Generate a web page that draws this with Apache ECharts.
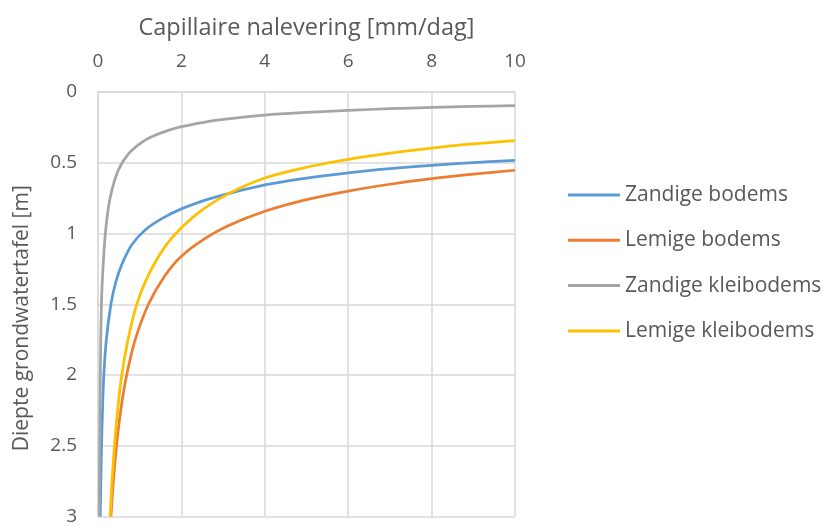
<!DOCTYPE html>
<html>
<head>
<meta charset="utf-8">
<script src="https://cdn.jsdelivr.net/npm/echarts@6/dist/echarts.min.js"></script>
<style>html,body{margin:0;padding:0;background:#fff}#c{width:824px;height:526px}</style>
</head>
<body>
<div id="c"></div>
<script>
const seriesNames = ['Zandige bodems', 'Lemige bodems', 'Zandige kleibodems', 'Lemige kleibodems'];
const xTicks = [0, 2, 4, 6, 8, 10];
const yTicks = [0, 0.5, 1, 1.5, 2, 2.5, 3];

// [capillaire nalevering (mm/dag), diepte grondwatertafel (m)]
const zandigeBodems = [[0.055,3],[0.068,2.75],[0.085,2.5],[0.108,2.25],[0.14,2.0],[0.2,1.75],[0.31,1.5],[0.42,1.35],[0.57,1.22],[0.81,1.08],[1.13,0.975],[1.53,0.895],[2.0,0.826],[2.75,0.748],[4,0.657],[5,0.608],[6,0.571],[7,0.542],[8,0.518],[9,0.499],[10,0.483]];
const lemigeBodems = [[0.31,3],[0.368,2.75],[0.444,2.5],[0.545,2.25],[0.688,2.0],[0.893,1.75],[1.21,1.5],[1.6,1.3],[2.0,1.16],[2.57,1.034],[3.12,0.945],[4,0.843],[5,0.761],[6,0.70],[7,0.652],[8,0.613],[9,0.581],[10,0.553]];
const zandigeKleibodems = [[0.03,3],[0.04,2.5],[0.055,2.0],[0.082,1.5],[0.115,1.27],[0.17,1.02],[0.24,0.835],[0.33,0.697],[0.49,0.55],[0.73,0.437],[1.05,0.356],[1.3,0.315],[1.65,0.275],[2,0.245],[2.5,0.216],[3,0.194],[4,0.163],[5,0.144],[6,0.13],[7,0.118],[8,0.109],[9,0.102],[10,0.096]];
const lemigeKleibodems = [[0.29,3],[0.336,2.75],[0.395,2.5],[0.47,2.25],[0.57,2.0],[0.72,1.75],[0.93,1.5],[1.2,1.3],[1.59,1.1],[2.0,0.96],[2.49,0.835],[3.12,0.72],[4,0.608],[5,0.532],[6,0.476],[7,0.432],[8,0.396],[9,0.367],[10,0.343]];

const allData = [zandigeBodems, lemigeBodems, zandigeKleibodems, lemigeKleibodems];
const colors = ['#5B9BD5', '#ED7D31', '#A5A5A5', '#FFC000'];
const font = 'Open Sans';
const textColor = '#595959';
const gridColor = '#D9D9D9';

const chart = echarts.init(document.getElementById('c'), null, {renderer: 'canvas'});
chart.setOption({
  animation: false,
  backgroundColor: '#fff',
  color: colors,
  grid: {left: 98, right: 309, top: 92, bottom: 5, containLabel: false},
  xAxis: {
    type: 'value', position: 'top', min: xTicks[0], max: xTicks[xTicks.length - 1], interval: 2,
    name: 'Capillaire nalevering [mm/dag]', nameLocation: 'middle', nameGap: 52,
    nameTextStyle: {fontFamily: font, fontSize: 23.5, color: textColor},
    axisLine: {show: true, lineStyle: {color: gridColor, width: 1.5}},
    axisTick: {show: false},
    axisLabel: {fontFamily: font, fontSize: 19, color: textColor, margin: 21},
    splitLine: {show: true, lineStyle: {color: gridColor, width: 1.5}}
  },
  yAxis: {
    type: 'value', inverse: true, min: yTicks[0], max: yTicks[yTicks.length - 1], interval: 0.5,
    name: 'Diepte grondwatertafel [m]', nameLocation: 'middle', nameGap: 65,
    nameTextStyle: {fontFamily: font, fontSize: 21, color: textColor, padding: [0, 28, 0, 0]},
    axisLine: {show: true, lineStyle: {color: gridColor, width: 1.5}},
    axisTick: {show: false},
    axisLabel: {fontFamily: font, fontSize: 19, color: textColor, margin: 21},
    splitLine: {show: true, lineStyle: {color: gridColor, width: 1.5}}
  },
  legend: {
    orient: 'vertical', left: 568, top: 184.5, padding: 0,
    itemWidth: 52, itemHeight: 3, itemGap: 24.3, icon: 'rect',
    textStyle: {fontFamily: font, fontSize: 21, lineHeight: 21, color: textColor},
    data: seriesNames
  },
  series: seriesNames.map((n, i) => ({
    name: n, type: 'line', data: allData[i], smooth: 0.35, symbol: 'none',
    lineStyle: {width: 2.75, color: colors[i]}, itemStyle: {color: colors[i]}
  }))
});
</script>
</body>
</html>
